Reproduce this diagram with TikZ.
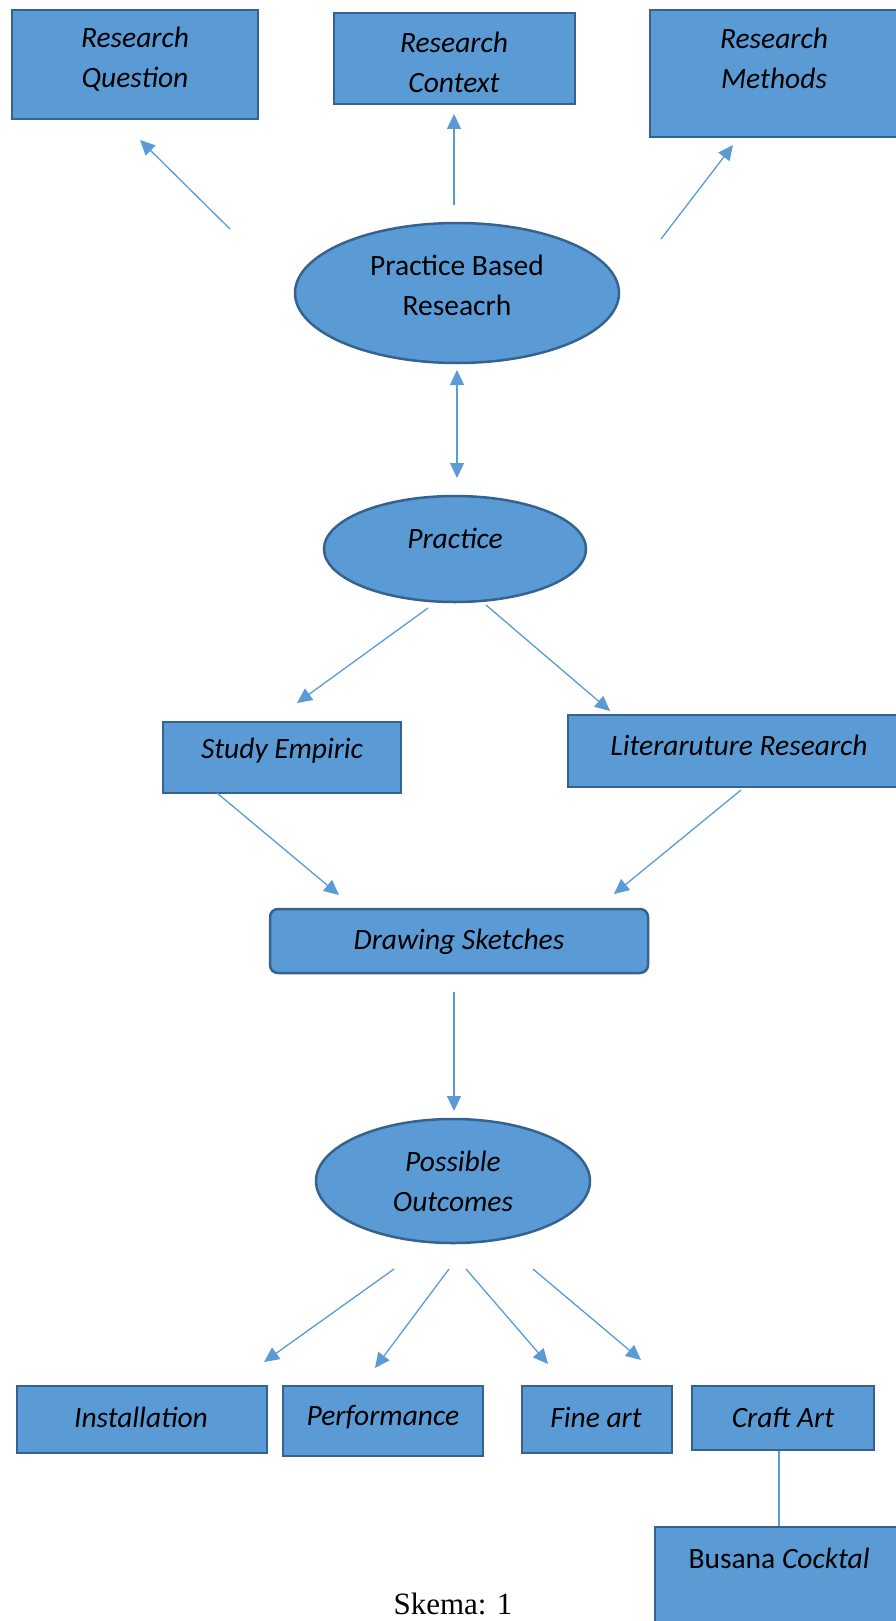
\documentclass[tikz,border=0pt]{standalone}
\usepackage{fontspec}
\setmainfont{Carlito}
\newfontfamily\captionfont{Liberation Serif}
\usetikzlibrary{shapes.geometric,arrows.meta}
\definecolor{fillblue}{HTML}{5B9BD5}
\definecolor{edgeblue}{HTML}{35628F}
\tikzset{
    block/.style = {rectangle, draw = edgeblue, fill = fillblue, line width = 2.5pt, inner sep = 0pt},
    rblock/.style = {block, rounded corners = 8pt},
    oval/.style = {ellipse, draw = edgeblue, fill = fillblue, line width = 2.5pt, inner sep = 0pt},
    words/.style = {align = center, inner sep = 0pt, font = \fontsize{29.5}{40}\selectfont\itshape},
    plainwords/.style = {words, font = \fontsize{29.5}{40}\selectfont\upshape},
    link/.style = {draw = fillblue, line width = 1.3pt, -{Triangle[length = 15pt, width = 14pt]}},
    twolink/.style = {link, {Triangle[length = 15pt, width = 14pt]}-{Triangle[length = 15pt, width = 14pt]}},
    joint/.style = {draw = fillblue, line width = 1.3pt}
}

\begin{document}
\begin{tikzpicture}[x = 1pt, y = -1pt]
    \useasboundingbox (0,0) rectangle (896,1621);

    % top row
    \node [block, minimum width = 246pt, minimum height = 109pt] (rq) at (135,64.5) {};
    \node [words] (rq-t) at (135,59) {Research\\Question};
    \node [block, minimum width = 241pt, minimum height = 91pt] (rc) at (454.5,58.5) {};
    \node [words] (rc-t) at (454,62) {Research\\Context};
    \node [block, minimum width = 250pt, minimum height = 127pt] (rm) at (775,73.5) {};
    \node [words] (rm-t) at (774,58.5) {Research\\Methods};

    % centre column
    \node [oval, minimum width = 324pt, minimum height = 140pt] (pbr) at (457,293) {};
    \node [plainwords] (pbr-t) at (457,285) {Practice Based\\Reseacrh};
    \node [oval, minimum width = 262pt, minimum height = 106pt] (prac) at (455,549) {};
    \node [words] (prac-t) at (455,538) {Practice};

    \node [block, minimum width = 238pt, minimum height = 71pt] (se) at (282,757.5) {};
    \node [words] (se-t) at (282,751) {Study Empiric};
    \node [block, minimum width = 342pt, minimum height = 72pt] (lr) at (739,751) {};
    \node [words] (lr-t) at (739,745) {Literaruture Research};

    \node [rblock, minimum width = 378pt, minimum height = 64pt] (ds) at (459,941) {};
    \node [words] (ds-t) at (459,942) {Drawing Sketches};
    \node [oval, minimum width = 274pt, minimum height = 124pt] (po) at (453,1181) {};
    \node [words] (po-t) at (453,1181) {Possible\\Outcomes};

    % outcomes
    \node [block, minimum width = 250pt, minimum height = 67pt] (inst) at (142,1419.5) {};
    \node [words] (inst-t) at (141,1417) {Installation};
    \node [block, minimum width = 200pt, minimum height = 70pt] (perf) at (383,1421) {};
    \node [words] (perf-t) at (383,1417) {Performance};
    \node [block, minimum width = 150pt, minimum height = 67pt] (fine) at (597,1419.5) {};
    \node [words] (fine-t) at (596,1417) {Fine art};
    \node [block, minimum width = 182pt, minimum height = 64pt] (craft) at (783,1418) {};
    \node [words] (craft-t) at (783,1417) {Craft Art};

    \draw [joint] (craft.south -| 779,0) -- (779,1530) coordinate (bus-in);
    \node [block, minimum width = 250pt, minimum height = 103pt] (bus) at (780,1578.5) {};
    \node [plainwords] (bus-t) at (779,1558) {Busana \textit{Cocktal}};

    \node [font = \captionfont\fontsize{31}{36}\selectfont, inner sep = 0pt] (skema) at (453,1604) {Skema: 1};

    % arrow ends
    \coordinate (q0) at (230,229);   \coordinate (q1) at (140,140);
    \coordinate (c0) at (454,205);   \coordinate (c1) at (454,114);
    \coordinate (m0) at (661,239);   \coordinate (m1) at (733,145);
    \coordinate (p0) at (457,370);   \coordinate (p1) at (457,478);
    \coordinate (s0) at (428,608);   \coordinate (s1) at (297,703);
    \coordinate (l0) at (486,605);   \coordinate (l1) at (610,711);
    \coordinate (d0) at (217,793);   \coordinate (d1) at (339,895);
    \coordinate (d2) at (741,790);   \coordinate (d3) at (614,894);
    \coordinate (o0) at (454,992);   \coordinate (o1) at (454,1111);
    \coordinate (i0) at (394,1269);  \coordinate (i1) at (264,1362);
    \coordinate (f0) at (449,1269);  \coordinate (f1) at (375,1368);
    \coordinate (a0) at (466,1269);  \coordinate (a1) at (548,1364);
    \coordinate (k0) at (533,1269);  \coordinate (k1) at (641,1360);

    \draw [link] (q0) -- (q1);
    \draw [link] (c0) -- (c1);
    \draw [link] (m0) -- (m1);
    \draw [twolink] (p0) -- (p1);
    \draw [link] (s0) -- (s1);
    \draw [link] (l0) -- (l1);
    \draw [link] (d0) -- (d1);
    \draw [link] (d2) -- (d3);
    \draw [link] (o0) -- (o1);
    \draw [link] (i0) -- (i1);
    \draw [link] (f0) -- (f1);
    \draw [link] (a0) -- (a1);
    \draw [link] (k0) -- (k1);
\end{tikzpicture}
\end{document}
